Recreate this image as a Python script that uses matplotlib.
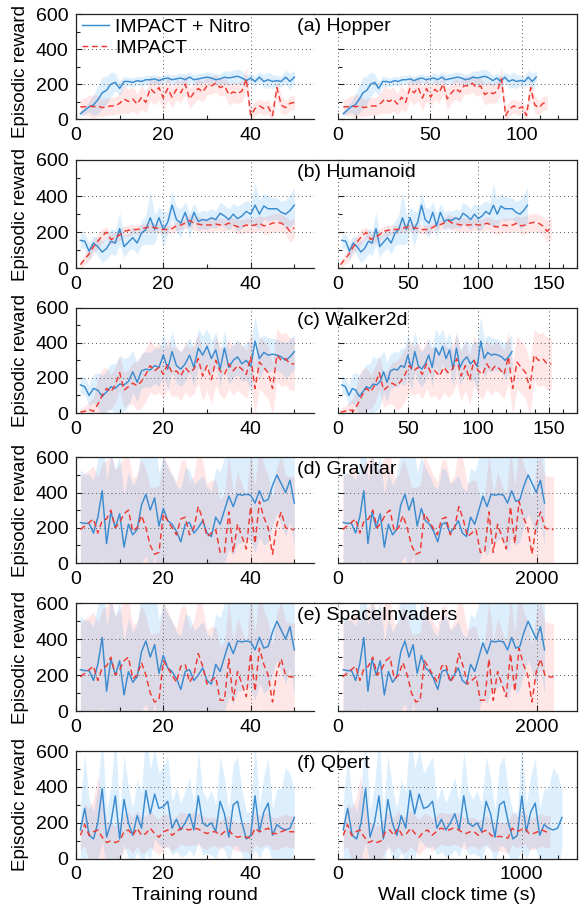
import numpy as np
import matplotlib
matplotlib.use("Agg")
import matplotlib.pyplot as plt
from matplotlib.ticker import MultipleLocator, NullFormatter
from matplotlib.lines import Line2D

plt.rcParams['font.family'] = ['Liberation Sans', 'DejaVu Sans']

# ---------------- data (per training round 1..50) ----------------
rounds = np.arange(1, 51)

hopper_nitro = [30, 50, 70, 80, 110, 150, 165, 200, 210, 175, 215, 215, 210, 220, 215, 225, 225, 230, 220, 230,
                235, 225, 230, 235, 225, 240, 225, 230, 235, 240, 235, 225, 230, 240, 235, 240, 245, 235, 220, 235,
                215, 240, 215, 225, 215, 220, 215, 240, 215, 240]
hopper_nitro_std = [15, 20, 30, 60, 80, 90, 80, 70, 50, 40, 30, 25, 25, 25, 25, 25, 25, 25, 25, 25,
                    25, 25, 25, 30, 30, 30, 30, 30, 30, 30, 30, 30, 30, 35, 40, 40, 40, 40, 30, 30,
                    30, 30, 40, 45, 40, 30, 30, 40, 45, 40]
hopper_impact = [70, 70, 75, 70, 75, 65, 70, 75, 75, 90, 115, 100, 115, 85, 125, 95, 175, 150, 180, 120,
                 175, 125, 170, 150, 200, 115, 150, 175, 155, 190, 190, 205, 180, 190, 140, 155, 145, 160, 230, 20,
                 60, 75, 60, 70, 20, 180, 80, 65, 90, 95]
hopper_impact_std = [40, 50, 60, 70, 60, 50, 50, 50, 50, 60, 80, 70, 70, 60, 70, 60, 70, 70, 70, 70,
                     70, 60, 60, 60, 60, 60, 60, 60, 60, 50, 50, 50, 50, 50, 60, 60, 60, 60, 70, 50,
                     40, 40, 40, 40, 40, 60, 50, 40, 40, 40]

humanoid_nitro = [155, 150, 95, 140, 120, 90, 110, 150, 140, 220, 120, 145, 170, 140, 195, 215, 280, 215, 280, 215,
                  255, 350, 270, 250, 310, 235, 310, 260, 270, 265, 280, 270, 305, 290, 270, 300, 275, 290, 315, 300,
                  350, 300, 345, 330, 330, 330, 310, 300, 320, 350]
humanoid_nitro_std = [40, 40, 50, 40, 50, 60, 60, 70, 70, 90, 60, 50, 60, 60, 70, 80, 150, 80, 60, 100,
                      60, 80, 70, 80, 60, 70, 50, 50, 50, 50, 50, 50, 60, 60, 60, 60, 70, 70, 60, 60,
                      120, 80, 70, 70, 60, 60, 60, 80, 90, 100]
humanoid_impact = [20, 50, 80, 120, 150, 180, 200, 160, 170, 185, 205, 210, 215, 215, 220, 225, 230, 225, 220, 215,
                   215, 220, 235, 240, 250, 265, 250, 245, 240, 240, 240, 245, 240, 240, 250, 240, 230, 230, 240, 235,
                   240, 250, 235, 240, 250, 255, 250, 235, 205, 225]
humanoid_impact_std = [20, 30, 40, 40, 40, 40, 30, 30, 30, 30, 30, 30, 25, 25, 25, 25, 25, 25, 25, 25,
                       25, 25, 25, 25, 30, 35, 40, 40, 40, 40, 40, 35, 35, 35, 35, 40, 40, 40, 40, 40,
                       40, 40, 50, 50, 50, 50, 50, 50, 60, 60]

walker_nitro = [160, 150, 100, 140, 130, 95, 120, 150, 140, 165, 160, 180, 235, 175, 240, 250, 245, 270, 260, 330,
                250, 350, 270, 250, 280, 330, 260, 370, 330, 380, 310, 360, 250, 370, 260, 300, 320, 280, 300, 265,
                410, 310, 345, 330, 335, 330, 320, 300, 320, 350]
walker_nitro_std = [50, 50, 60, 80, 100, 120, 120, 130, 140, 160, 150, 140, 120, 110, 100, 100, 100, 100, 110, 120,
                    120, 120, 100, 100, 100, 100, 110, 110, 110, 100, 100, 100, 100, 100, 100, 100, 100, 100, 110, 140,
                    140, 110, 100, 100, 90, 90, 90, 100, 100, 100]
walker_impact = [5, 10, 20, 10, 50, 100, 140, 120, 160, 230, 130, 150, 170, 155, 180, 220, 270, 240, 260, 220,
                 280, 230, 240, 210, 260, 230, 250, 310, 210, 270, 190, 300, 240, 220, 280, 240, 270, 250, 220, 320,
                 140, 290, 260, 230, 140, 330, 300, 310, 280, 280]
walker_impact_std = [20, 30, 40, 80, 150, 150, 120, 100, 100, 100, 100, 100, 120, 140, 150, 150, 150, 140, 140, 140,
                     140, 140, 140, 140, 140, 140, 140, 140, 140, 140, 140, 140, 140, 140, 140, 140, 140, 140, 140, 150,
                     150, 150, 150, 150, 150, 150, 150, 150, 150, 150]

gravitar_nitro = [230, 225, 225, 170, 260, 410, 110, 290, 200, 280, 90, 220, 160, 190, 330, 390, 300, 370, 210, 310,
                  240, 220, 180, 120, 220, 230, 170, 200, 240, 170, 150, 260, 220, 300, 380, 320, 390, 385, 390, 385,
                  340, 410, 350, 360, 440, 500, 450, 400, 470, 340]
gravitar_nitro_std = [300, 280, 280, 300, 330, 380, 360, 330, 330, 330, 300, 300, 280, 300, 330, 350, 350, 330, 300, 300,
                      300, 280, 260, 300, 320, 300, 280, 270, 260, 260, 260, 280, 300, 300, 300, 280, 280, 270, 250, 260,
                      280, 260, 250, 240, 230, 220, 230, 250, 230, 250]
gravitar_impact = [190, 210, 230, 250, 170, 240, 250, 300, 200, 230, 280, 300, 180, 200, 270, 200, 100, 50, 60, 280,
                   240, 200, 160, 250, 260, 160, 200, 320, 250, 150, 170, 190, 60, 60, 290, 60, 220, 150, 80, 320,
                   110, 350, 260, 200, 50, 220, 290, 200, 190, 190]
gravitar_impact_std = [300, 300, 300, 300, 320, 330, 330, 330, 330, 330, 330, 320, 300, 300, 320, 330, 330, 380, 380, 330,
                       320, 300, 300, 330, 330, 300, 300, 330, 330, 300, 300, 280, 300, 330, 330, 330, 300, 300, 300, 330,
                       330, 330, 300, 300, 320, 330, 320, 300, 300, 300]

spaceinv_nitro = gravitar_nitro
spaceinv_nitro_std = gravitar_nitro_std
spaceinv_impact = gravitar_impact
spaceinv_impact_std = gravitar_impact_std

qbert_nitro = [160, 280, 130, 110, 200, 390, 120, 200, 350, 110, 330, 200, 130, 240, 170, 380, 250, 360, 280, 290,
               320, 170, 220, 160, 200, 250, 160, 350, 200, 180, 200, 150, 320, 250, 120, 300, 320, 200, 110, 130,
               350, 150, 260, 310, 130, 190, 170, 160, 170, 230]
qbert_nitro_std = [150, 300, 200, 150, 200, 300, 150, 200, 350, 150, 250, 200, 150, 200, 200, 350, 250, 250, 200, 230,
                   250, 150, 180, 150, 180, 200, 150, 250, 180, 150, 180, 150, 250, 200, 150, 230, 250, 180, 150, 130,
                   300, 150, 200, 250, 150, 200, 220, 350, 300, 150]
qbert_impact = [130, 190, 130, 150, 160, 120, 90, 100, 90, 100, 150, 160, 130, 170, 130, 140, 170, 140, 120, 150,
                160, 130, 150, 170, 165, 160, 170, 165, 150, 140, 150, 150, 130, 150, 160, 130, 120, 125, 120, 115,
                170, 150, 160, 170, 140, 140, 150, 160, 150, 150]
qbert_impact_std = [80, 120, 150, 180, 300, 200, 120, 100, 90, 100, 100, 100, 100, 100, 100, 100, 100, 100, 100, 100,
                    90, 90, 90, 90, 90, 90, 90, 90, 90, 90, 80, 80, 80, 80, 80, 80, 80, 80, 80, 90,
                    90, 90, 90, 90, 90, 90, 90, 90, 90, 90]

# wall-clock time (s) of first and last round for each run
nitro_time_span = {'Hopper': (3, 108), 'Humanoid': (3, 135), 'Walker2d': (3, 124),
                   'Gravitar': (56, 2077), 'SpaceInvaders': (56, 2077), 'Qbert': (30, 1220)}
impact_time_span = {'Hopper': (3, 114), 'Humanoid': (2, 152), 'Walker2d': (2, 152),
                    'Gravitar': (50, 2167), 'SpaceInvaders': (50, 2167), 'Qbert': (30, 1156)}

envs = ['Hopper', 'Humanoid', 'Walker2d', 'Gravitar', 'SpaceInvaders', 'Qbert']
titles = ['(a) Hopper', '(b) Humanoid', '(c) Walker2d', '(d) Gravitar', '(e) SpaceInvaders', '(f) Qbert']
series = {
    'Hopper': (hopper_nitro, hopper_nitro_std, hopper_impact, hopper_impact_std),
    'Humanoid': (humanoid_nitro, humanoid_nitro_std, humanoid_impact, humanoid_impact_std),
    'Walker2d': (walker_nitro, walker_nitro_std, walker_impact, walker_impact_std),
    'Gravitar': (gravitar_nitro, gravitar_nitro_std, gravitar_impact, gravitar_impact_std),
    'SpaceInvaders': (spaceinv_nitro, spaceinv_nitro_std, spaceinv_impact, spaceinv_impact_std),
    'Qbert': (qbert_nitro, qbert_nitro_std, qbert_impact, qbert_impact_std),
}
right_xlim = {'Hopper': 130, 'Humanoid': 170, 'Walker2d': 170, 'Gravitar': 2400, 'SpaceInvaders': 2400, 'Qbert': 1300}
right_major = {'Hopper': 50, 'Humanoid': 50, 'Walker2d': 50, 'Gravitar': 2000, 'SpaceInvaders': 2000, 'Qbert': 1000}
right_minor = {'Hopper': 10, 'Humanoid': 10, 'Walker2d': 10, 'Gravitar': 1000, 'SpaceInvaders': 1000, 'Qbert': 100}

# ---------------- styling ----------------
BLUE = '#3a8bcf'
RED = '#ee3a32'
BLUE_FILL = '#2196f3'
RED_FILL = '#ff4a4a'
FS = 14
FS_Y = 13.5

W, H = 582, 907
fig = plt.figure(figsize=(W / 100, H / 100), dpi=100)

row_tops = [14.3, 160.0, 307.7, 457.3, 603.3, 751.0]
row_bots = [119.0, 268.3, 413.0, 563.0, 711.0, 858.7]
L0, L1 = 76.0, 314.0
R0, R1 = 337.7, 576.7


def style_axis(ax):
    ax.set_ylim(0, 600)
    ax.yaxis.set_major_locator(MultipleLocator(200))
    ax.yaxis.set_minor_locator(MultipleLocator(100))
    ax.tick_params(which='both', direction='in', top=False, right=False, width=0.8, color='#222222',
                   labelsize=FS, pad=5.5)
    ax.tick_params(which='major', length=4.5)
    ax.tick_params(which='minor', length=3)
    ax.grid(True, which='major', linestyle=(0, (1, 3)), color='#555555', linewidth=0.7)
    for s in ax.spines.values():
        s.set_linewidth(0.9)
        s.set_color('#222222')


def draw(ax, x_n, x_i, nitro, nitro_std, impact, impact_std):
    n = np.asarray(nitro, float); ns = np.asarray(nitro_std, float)
    m = np.asarray(impact, float); ms = np.asarray(impact_std, float)
    ax.fill_between(x_i, m - ms, m + ms, color=RED_FILL, alpha=0.13, linewidth=0)
    ax.fill_between(x_n, n - ns, n + ns, color=BLUE_FILL, alpha=0.15, linewidth=0)
    ax.plot(x_n, n, color=BLUE, linewidth=1.05, label='IMPACT + Nitro')
    ax.plot(x_i, m, color=RED, linewidth=1.05, linestyle=(0, (4, 2.5)), label='IMPACT')


for i, env in enumerate(envs):
    top, bot = row_tops[i], row_bots[i]
    nitro, nitro_std, impact, impact_std = series[env]

    axl = fig.add_axes([L0 / W, 1 - bot / H, (L1 - L0) / W, (bot - top) / H])
    style_axis(axl)
    draw(axl, rounds, rounds, nitro, nitro_std, impact, impact_std)
    axl.set_xlim(0, 54.5)
    axl.xaxis.set_major_locator(MultipleLocator(20))
    axl.xaxis.set_minor_locator(MultipleLocator(10))
    axl.spines['right'].set_visible(False)

    axr = fig.add_axes([R0 / W, 1 - bot / H, (R1 - R0) / W, (bot - top) / H])
    style_axis(axr)
    tn0, tn1 = nitro_time_span[env]
    ti0, ti1 = impact_time_span[env]
    draw(axr, np.linspace(tn0, tn1, len(nitro)), np.linspace(ti0, ti1, len(impact)),
         nitro, nitro_std, impact, impact_std)
    axr.set_xlim(0, right_xlim[env])
    axr.xaxis.set_major_locator(MultipleLocator(right_major[env]))
    axr.xaxis.set_minor_locator(MultipleLocator(right_minor[env]))
    axr.yaxis.set_major_formatter(NullFormatter())
    axr.spines['left'].set_visible(False)

    # connect top border across the gap
    fig.add_artist(Line2D([L1 / W, R0 / W], [1 - top / H, 1 - top / H], color='#222222',
                          linewidth=0.9, transform=fig.transFigure))

    fig.text(297.3 / W, 1 - (top + 12.5) / H, titles[i], fontsize=FS, ha='left', va='center')
    ycen = max((top + bot) / 2, 71.0)
    fig.text(21 / W, 1 - ycen / H, 'Episodic reward', fontsize=FS_Y, rotation=90,
             ha='center', va='center')

    if i == 0:
        axl.legend(loc='upper left', bbox_to_anchor=(0.025, 0.965), frameon=False, fontsize=FS,
                   borderaxespad=0, borderpad=0, handlelength=1.4, handletextpad=0.3, labelspacing=0.2)

fig.text((L0 + L1) / 2 / W, 1 - 899.7 / H, 'Training round', fontsize=FS, ha='center', va='baseline')
fig.text((R0 + R1) / 2 / W, 1 - 899.7 / H, 'Wall clock time (s)', fontsize=FS, ha='center', va='baseline')

fig.savefig('out.png', dpi=100)
